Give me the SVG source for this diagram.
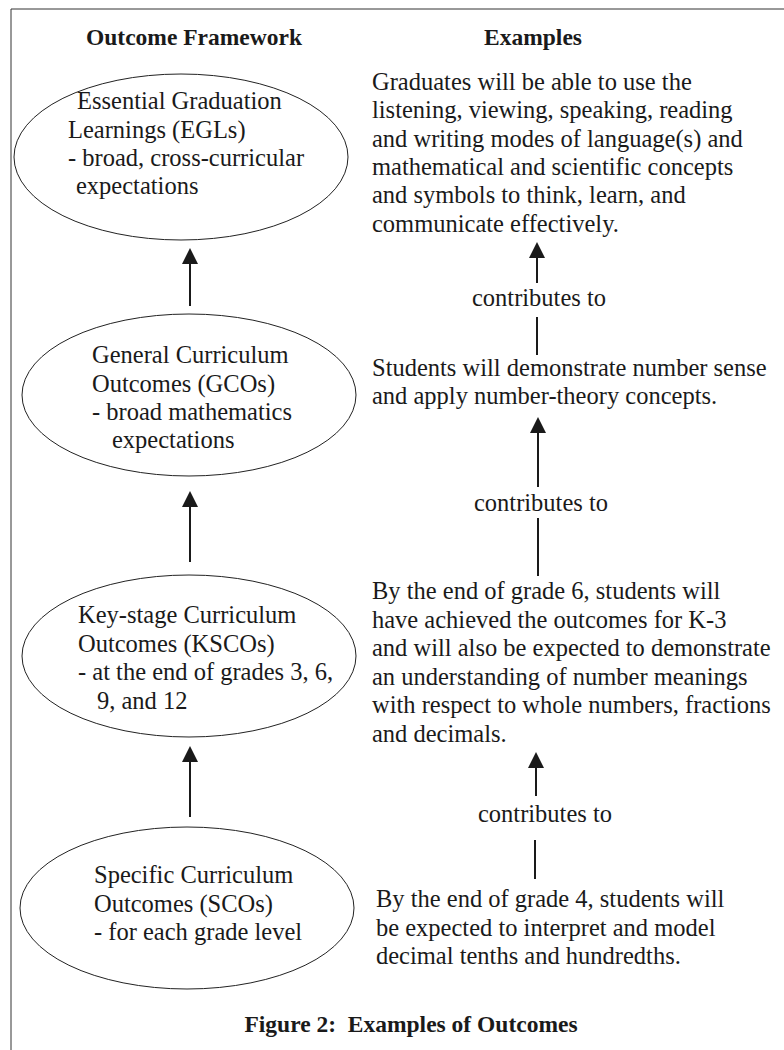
<svg xmlns="http://www.w3.org/2000/svg" width="784" height="1050" viewBox="0 0 784 1050">
<style>
text{font-family:"Liberation Serif","Times New Roman",serif;font-size:24.5px;fill:#1a1a1a}
.h{font-weight:bold;font-size:23.5px;text-anchor:middle}
.c{text-anchor:middle}
ellipse{fill:none;stroke:#222;stroke-width:1}
.conn line{stroke:#1a1a1a;stroke-width:2}
</style>
<defs>
<marker id="ah" viewBox="0 0 16 16" refX="0" refY="8" markerWidth="16" markerHeight="16" markerUnits="userSpaceOnUse" orient="auto">
<path d="M0,0 L16,8 L0,16 z" fill="#1a1a1a"/>
</marker>
</defs>
<rect width="784" height="1050" fill="#fff"/>
<path d="M11,1050 L11,9 L784,9" fill="none" stroke="#333" stroke-width="1"/>
<g id="headings">
<text class="h" x="194" y="45">Outcome Framework</text>
<text class="h" x="533" y="45">Examples</text>
</g>
<g id="egl">
<ellipse cx="181" cy="157" rx="167" ry="83"/>
<text x="77" y="109">Essential Graduation</text>
<text x="68" y="138">Learnings (EGLs)</text>
<text x="68" y="166">- broad, cross-curricular</text>
<text x="76" y="194">expectations</text>
</g>
<g id="gco">
<ellipse cx="189" cy="395" rx="167" ry="81"/>
<text x="92" y="363">General Curriculum</text>
<text x="92" y="392">Outcomes (GCOs)</text>
<text x="92" y="420">- broad mathematics</text>
<text x="112" y="448">expectations</text>
</g>
<g id="ksco">
<ellipse cx="189" cy="656" rx="167" ry="81"/>
<text x="78" y="623">Key-stage Curriculum</text>
<text x="78" y="652">Outcomes (KSCOs)</text>
<text x="78" y="680">- at the end of grades 3, 6,</text>
<text x="97" y="709">9, and 12</text>
</g>
<g id="sco">
<ellipse cx="187" cy="908" rx="167" ry="81"/>
<text x="94" y="883">Specific Curriculum</text>
<text x="94" y="912">Outcomes (SCOs)</text>
<text x="94" y="940">- for each grade level</text>
</g>
<g id="ex-egl">
<text x="372" y="90">Graduates will be able to use the</text>
<text x="372" y="118">listening, viewing, speaking, reading</text>
<text x="372" y="147">and writing modes of language(s) and</text>
<text x="372" y="175">mathematical and scientific concepts</text>
<text x="372" y="203">and symbols to think, learn, and</text>
<text x="372" y="232">communicate effectively.</text>
</g>
<g id="ex-gco">
<text x="372" y="376">Students will demonstrate number sense</text>
<text x="372" y="404">and apply number-theory concepts.</text>
</g>
<g id="ex-ksco">
<text x="372" y="599">By the end of grade 6, students will</text>
<text x="372" y="628">have achieved the outcomes for K-3</text>
<text x="372" y="656">and will also be expected to demonstrate</text>
<text x="372" y="685">an understanding of number meanings</text>
<text x="372" y="713">with respect to whole numbers, fractions</text>
<text x="372" y="742">and decimals.</text>
</g>
<g id="ex-sco">
<text x="376" y="907">By the end of grade 4, students will</text>
<text x="376" y="936">be expected to interpret and model</text>
<text x="376" y="964">decimal tenths and hundredths.</text>
</g>
<g class="conn" id="connectors">
<line x1="190" y1="306" x2="190" y2="264" marker-end="url(#ah)"/>
<line x1="190" y1="562" x2="190" y2="507" marker-end="url(#ah)"/>
<line x1="190" y1="817" x2="190" y2="762" marker-end="url(#ah)"/>
<line x1="537" y1="283" x2="537" y2="258" marker-end="url(#ah)"/>
<line x1="537" y1="355" x2="537" y2="317"/>
<text class="c" x="539" y="306">contributes to</text>
<line x1="538" y1="487" x2="538" y2="433" marker-end="url(#ah)"/>
<line x1="538" y1="576" x2="538" y2="518"/>
<text class="c" x="541" y="511">contributes to</text>
<line x1="536" y1="796" x2="536" y2="768" marker-end="url(#ah)"/>
<line x1="535" y1="879" x2="535" y2="840"/>
<text class="c" x="545" y="822">contributes to</text>
</g>
<g id="caption">
<text class="h" x="411" y="1032">Figure 2:&#160; Examples of Outcomes</text>
</g>
</svg>
